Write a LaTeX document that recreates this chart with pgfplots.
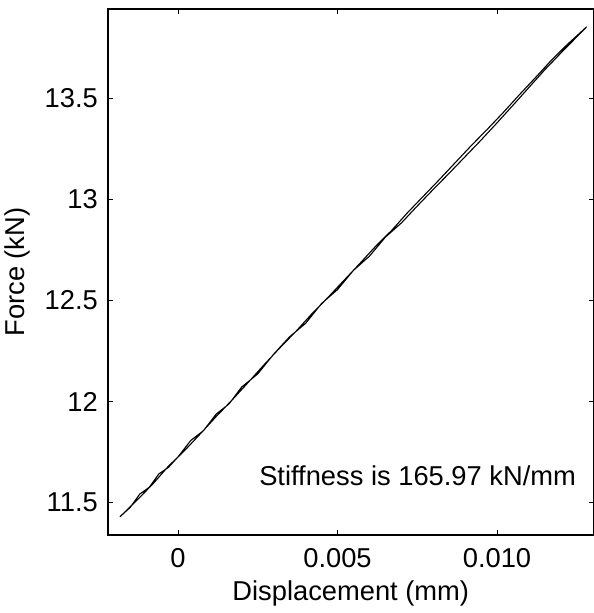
\documentclass[border=0pt]{standalone}
\usepackage{pgfplots}
\pgfplotsset{compat=1.18}
\usepackage{fontspec}
\setmainfont{Liberation Sans}
\newcommand\ff{\fontsize{27.3bp}{32bp}\selectfont}
\begin{document}
\begin{tikzpicture}
\begin{axis}[
  scale only axis,
  width=485.5bp, height=526bp,
  xmin=-0.002194, xmax=0.013025,
  ymin=11.340, ymax=13.940,
  axis line style={line width=1.1bp},
  tick align=inside,
  major tick length=5bp,
  tick style={line width=0.8bp, black},
  xtick={0,0.005,0.010},
  xticklabels={0,0.005,0.010},
  ytick={11.5,12,12.5,13,13.5},
  yticklabels={11.5,12,12.5,13,13.5},
  scaled x ticks=false,
  /pgf/number format/assume math mode=true,
  ticklabel style={font=\ff, inner sep=0pt},
  xticklabel style={anchor=base, yshift=-32bp},
  yticklabel style={anchor=east, xshift=-10bp},
  label style={font=\ff, inner sep=0pt},
  xlabel={Displacement (mm)},
  ylabel={Force (kN)},
  xlabel style={at={(rel axis cs:0.5,0)}, anchor=base, yshift=-65bp},
  ylabel style={at={(rel axis cs:0,0.5)}, anchor=center, yshift=91bp},
  clip=false,
]
\addplot[black, line width=1.1bp] coordinates {
(-0.00182,11.430) (-0.0015,11.476) (-0.0012,11.542) (-0.0009,11.576)
(-0.0006,11.642) (-0.0003,11.674) (0.0000,11.726) (0.0004,11.807)
(0.0008,11.856) (0.0012,11.938) (0.0016,11.988) (0.0020,12.072)
(0.0025,12.136) (0.0030,12.234) (0.0035,12.320) (0.0040,12.386)
(0.0045,12.484) (0.0050,12.553) (0.0055,12.648) (0.0060,12.718)
(0.0065,12.812) (0.0070,12.882) (0.0075,12.966) (0.0080,13.048)
(0.0085,13.128) (0.0090,13.210) (0.0095,13.292) (0.0100,13.377)
(0.0105,13.464) (0.0110,13.552) (0.0115,13.640) (0.0120,13.722)
(0.0124,13.786) (0.01281,13.852)
(0.0127,13.836) (0.0122,13.764) (0.0117,13.686) (0.0112,13.600)
(0.0107,13.516) (0.0102,13.429) (0.0097,13.346) (0.0092,13.266)
(0.0087,13.182) (0.0082,13.098) (0.0077,13.016) (0.0072,12.934)
(0.0067,12.846) (0.0062,12.768) (0.0057,12.682) (0.0052,12.598)
(0.0047,12.514) (0.0042,12.434) (0.0037,12.347) (0.0032,12.266)
(0.0027,12.182) (0.0022,12.094) (0.0017,12.008) (0.0012,11.926)
(0.0007,11.840) (0.0002,11.756) (-0.0003,11.680) (-0.0008,11.590)
(-0.0013,11.510) (-0.00182,11.430)
};
\node[anchor=base, font=\ff, inner sep=0pt] at (axis cs:0.00751,11.587) {Stiffness is 165.97 kN/mm};
\coordinate (bl) at (rel axis cs:0,0);
\coordinate (tr) at (rel axis cs:1,1);
\end{axis}
\pgfresetboundingbox
\path (bl) ++(-108bp,-78bp) coordinate (a) (tr) ++(0.5bp,9bp) coordinate (b);
\useasboundingbox (a) rectangle (b);
\end{tikzpicture}
\end{document}
